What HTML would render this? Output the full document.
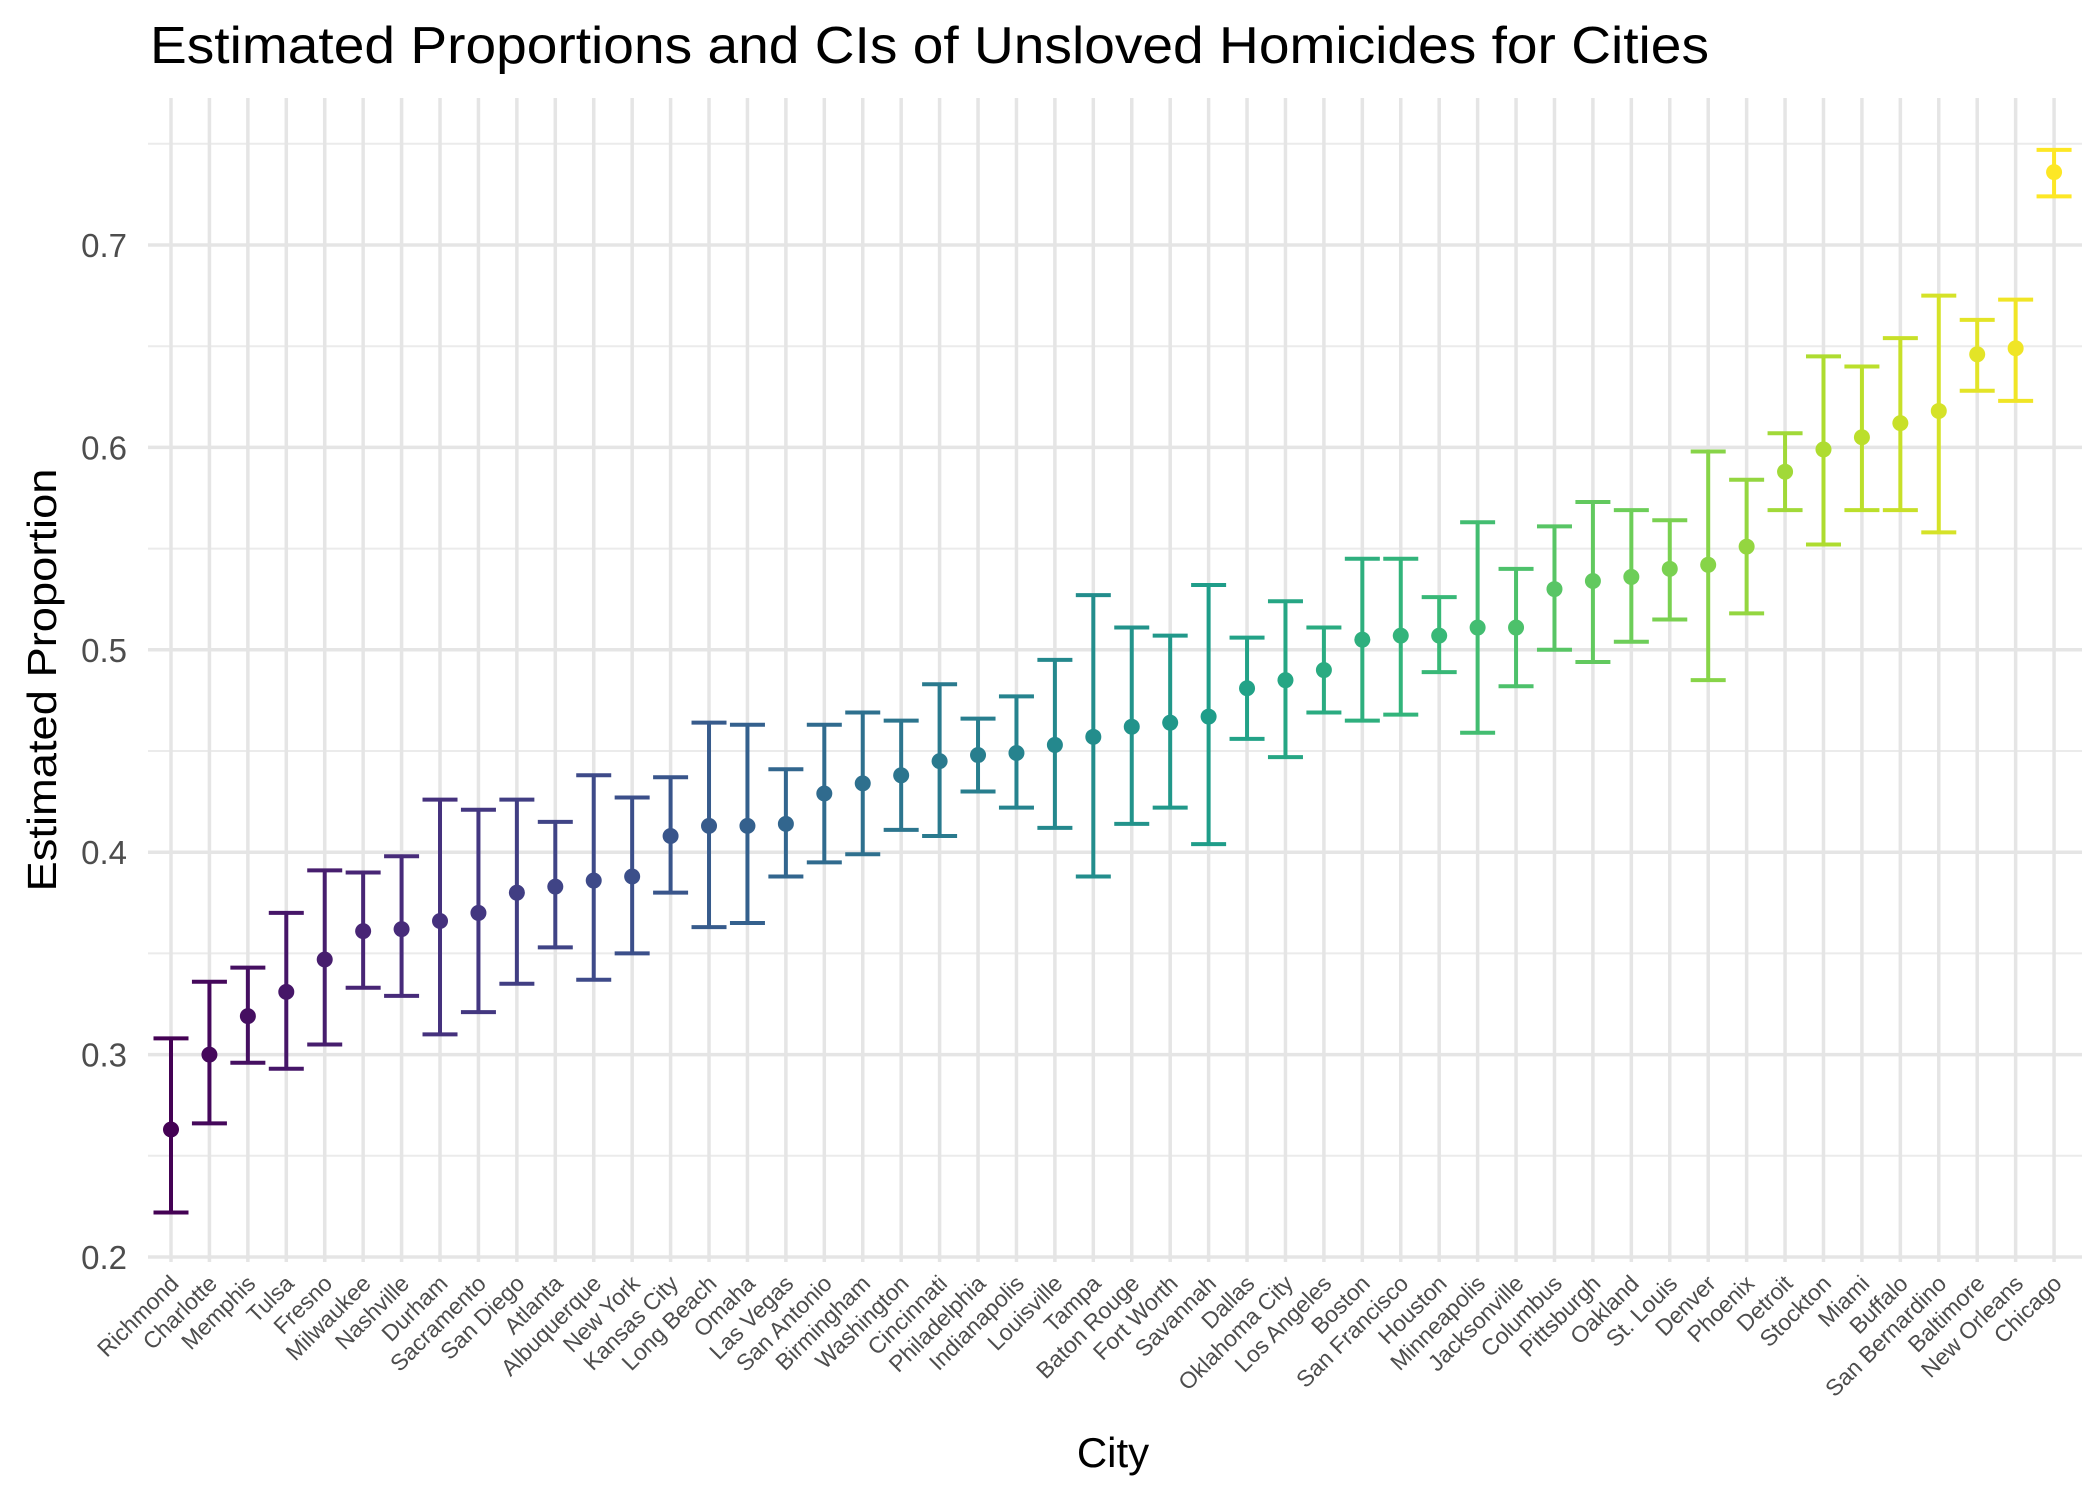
<!DOCTYPE html>
<html><head><meta charset="utf-8"><style>
html,body{margin:0;padding:0;background:#fff;}
svg{display:block;font-family:"Liberation Sans",Arial,sans-serif;}
</style></head><body>
<svg id="chart" width="2100" height="1500" viewBox="0 0 2100 1500" xmlns="http://www.w3.org/2000/svg">
<text x="150" y="63" font-size="52" fill="#000" textLength="1559" lengthAdjust="spacingAndGlyphs">Estimated Proportions and CIs of Unsloved Homicides for Cities</text>
<text transform="translate(56,680) rotate(-90)" text-anchor="middle" font-size="41" fill="#000" textLength="423" lengthAdjust="spacingAndGlyphs">Estimated Proportion</text>
<text x="1113" y="1467" text-anchor="middle" font-size="42" fill="#000">City</text>
<g id="grid"></g>
<g id="yticks"></g>
<g id="xticks"></g>
<g id="marks"></g>
</svg>
<script>
const cities=["Richmond","Charlotte","Memphis","Tulsa","Fresno","Milwaukee","Nashville","Durham","Sacramento","San Diego","Atlanta","Albuquerque","New York","Kansas City","Long Beach","Omaha","Las Vegas","San Antonio","Birmingham","Washington","Cincinnati","Philadelphia","Indianapolis","Louisville","Tampa","Baton Rouge","Fort Worth","Savannah","Dallas","Oklahoma City","Los Angeles","Boston","San Francisco","Houston","Minneapolis","Jacksonville","Columbus","Pittsburgh","Oakland","St. Louis","Denver","Phoenix","Detroit","Stockton","Miami","Buffalo","San Bernardino","Baltimore","New Orleans","Chicago"];
const estimates=[0.263,0.300,0.319,0.331,0.347,0.361,0.362,0.366,0.370,0.380,0.383,0.386,0.388,0.408,0.413,0.413,0.414,0.429,0.434,0.438,0.445,0.448,0.449,0.453,0.457,0.462,0.464,0.467,0.481,0.485,0.490,0.505,0.507,0.507,0.511,0.511,0.530,0.534,0.536,0.540,0.542,0.551,0.588,0.599,0.605,0.612,0.618,0.646,0.649,0.736];
const lowers=[0.222,0.266,0.296,0.293,0.305,0.333,0.329,0.310,0.321,0.335,0.353,0.337,0.350,0.380,0.363,0.365,0.388,0.395,0.399,0.411,0.408,0.430,0.422,0.412,0.388,0.414,0.422,0.404,0.456,0.447,0.469,0.465,0.468,0.489,0.459,0.482,0.500,0.494,0.504,0.515,0.485,0.518,0.569,0.552,0.569,0.569,0.558,0.628,0.623,0.724];
const uppers=[0.308,0.336,0.343,0.370,0.391,0.390,0.398,0.426,0.421,0.426,0.415,0.438,0.427,0.437,0.464,0.463,0.441,0.463,0.469,0.465,0.483,0.466,0.477,0.495,0.527,0.511,0.507,0.532,0.506,0.524,0.511,0.545,0.545,0.526,0.563,0.540,0.561,0.573,0.569,0.564,0.598,0.584,0.607,0.645,0.640,0.654,0.675,0.663,0.673,0.747];
const yTicks=[0.2,0.3,0.4,0.5,0.6,0.7];
const yMinor=[0.25,0.35,0.45,0.55,0.65,0.75];

const NS="http://www.w3.org/2000/svg";
const X0=171,DX=38.43,PL=148,PR=2082,PT=98,PB=1262;
function xs(i){return X0+i*DX;}
function ys(v){return 1257-(v-0.2)*2024;}
const vir=["#440154","#482878","#3e4989","#31688e","#26828e","#1f9e89","#35b779","#6ece58","#b5de2b","#fde725"];
function hex(c){return [1,3,5].map(k=>parseInt(c.substr(k,2),16));}
function color(t){const p=t*(vir.length-1);const i=Math.min(Math.floor(p),vir.length-2);const f=p-i;const a=hex(vir[i]),b=hex(vir[i+1]);return "rgb("+a.map((v,k)=>Math.round(v+(b[k]-v)*f)).join(",")+")";}
function mk(tag,attrs,parent){const e=document.createElementNS(NS,tag);for(const k in attrs)e.setAttribute(k,attrs[k]);parent.appendChild(e);return e;}

const grid=document.getElementById('grid');
yMinor.forEach(v=>{const l=mk('line',{x1:PL,x2:PR,y1:ys(v),y2:ys(v),stroke:'#ebebeb','stroke-width':2},grid);

});
yTicks.forEach(v=>{const l=mk('line',{x1:PL,x2:PR,y1:ys(v),y2:ys(v),stroke:'#e5e5e5','stroke-width':3.5},grid);

});
cities.forEach((c,i)=>{const l=mk('line',{x1:xs(i),x2:xs(i),y1:PT,y2:PB,stroke:'#e5e5e5','stroke-width':3.5},grid);

});

const yt=document.getElementById('yticks');
yTicks.forEach(v=>{const t=mk('text',{x:127,y:ys(v)+12,'text-anchor':'end','font-size':33,fill:'#4d4d4d'},yt);t.textContent=v.toFixed(1);

});

const xt=document.getElementById('xticks');
cities.forEach((c,i)=>{const t=mk('text',{transform:'translate('+(xs(i)+9)+',1285) rotate(-45)','text-anchor':'end','font-size':23,fill:'#4d4d4d'},xt);t.textContent=c;

});

const marks=document.getElementById('marks');
cities.forEach((c,i)=>{
  const col=color(i/(cities.length-1));const x=xs(i);
  const g=mk('g',{},marks);
  
  
  mk('line',{x1:x,x2:x,y1:ys(lowers[i]),y2:ys(uppers[i]),stroke:col,'stroke-width':4},g);
  mk('line',{x1:x-17.5,x2:x+17.5,y1:ys(lowers[i]),y2:ys(lowers[i]),stroke:col,'stroke-width':4},g);
  mk('line',{x1:x-17.5,x2:x+17.5,y1:ys(uppers[i]),y2:ys(uppers[i]),stroke:col,'stroke-width':4},g);
  const p=mk('circle',{cx:x,cy:ys(estimates[i]),r:8,fill:col},g);
  
  
});
</script>
</body></html>
